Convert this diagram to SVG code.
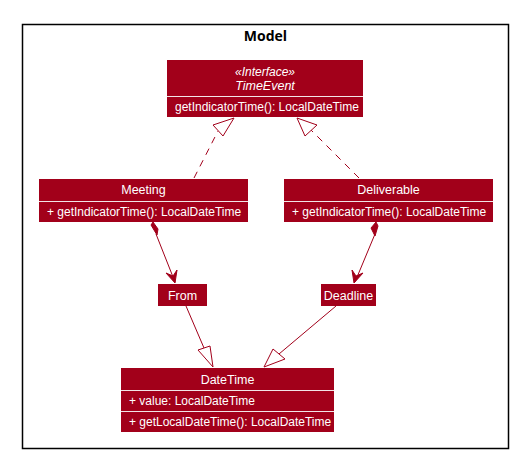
<svg xmlns="http://www.w3.org/2000/svg" width="519" height="459" viewBox="0 0 519 459">
<defs>
<style>
.box{fill:#A2001A;stroke:none}
.sep{stroke:#F2E4E6;stroke-width:1}
.t{font-family:"Liberation Sans",Arial,sans-serif;font-size:12px;fill:#FFFFFF}
.c{text-anchor:middle}
.title{font-size:12.5px}
.edge{stroke:#A2001A;stroke-width:1;fill:none}
.head{stroke:#A2001A;stroke-width:1;fill:#FFFFFF}
.solid{stroke:#A2001A;stroke-width:1;fill:#A2001A}
</style>
</defs>
<rect width="519" height="459" fill="#FFFFFF"/>
<g id="frame">
<rect x="22.5" y="24.5" width="486" height="424" fill="none" stroke="#000000" stroke-width="1.5"/>
<text x="265.5" y="41" text-anchor="middle" font-family="'Open Sans','Liberation Sans',sans-serif" font-weight="bold" font-size="14" fill="#000000">Model</text>
</g>
<g id="connectors">
<line class="edge" x1="194" y1="178" x2="218" y2="131" stroke-dasharray="7,6"/>
<polygon class="head" points="234,118 213,125 223,136"/>
<line class="edge" x1="359" y1="178" x2="311" y2="130" stroke-dasharray="7,6"/>
<polygon class="head" points="297,118 317,125 305,136"/>
<line class="edge" x1="156" y1="234" x2="175" y2="282"/>
<polygon class="solid" points="151,225 153,222 158,229 157,235"/>
<polygon class="solid" points="175,283 166,273 173,276 177,270"/>
<line class="edge" x1="375" y1="234" x2="355" y2="282"/>
<polygon class="solid" points="376,222 378,226 375,236 371,228"/>
<polygon class="solid" points="354,283 352,270 356,276 363,273"/>
<line class="edge" x1="186" y1="306" x2="204" y2="348"/>
<polygon class="head" points="213,367 198,350 210,346"/>
<line class="edge" x1="336" y1="306" x2="279" y2="354"/>
<polygon class="head" points="264,367 273,349 285,359"/>
</g>
<g id="TimeEvent">
<rect class="box" x="167" y="60" width="196" height="57"/>
<line class="sep" x1="167" y1="96.5" x2="363" y2="96.5"/>
<text class="t c" x="265" y="76" font-style="italic">«Interface»</text>
<text class="t c title" x="265" y="90" font-style="italic">TimeEvent</text>
<text class="t" x="175" y="111">getIndicatorTime(): LocalDateTime</text>
</g>
<g id="Meeting">
<rect class="box" x="39" y="179" width="209" height="43"/>
<line class="sep" x1="39" y1="201.5" x2="248" y2="201.5"/>
<text class="t c title" x="143.5" y="194">Meeting</text>
<text class="t" x="47" y="216">+ getIndicatorTime(): LocalDateTime</text>
</g>
<g id="Deliverable">
<rect class="box" x="284" y="179" width="209" height="43"/>
<line class="sep" x1="284" y1="201.5" x2="493" y2="201.5"/>
<text class="t c title" x="388.5" y="194">Deliverable</text>
<text class="t" x="292" y="216">+ getIndicatorTime(): LocalDateTime</text>
</g>
<g id="From">
<rect class="box" x="158" y="284" width="49" height="22"/>
<text class="t c title" x="182.5" y="299.5">From</text>
</g>
<g id="Deadline">
<rect class="box" x="321" y="284" width="55" height="22"/>
<text class="t c title" x="348.5" y="299.5">Deadline</text>
</g>
<g id="DateTime">
<rect class="box" x="121" y="368" width="213" height="64"/>
<line class="sep" x1="121" y1="390.5" x2="334" y2="390.5"/>
<line class="sep" x1="121" y1="411.5" x2="334" y2="411.5"/>
<text class="t c title" x="227.5" y="384">DateTime</text>
<text class="t" x="129" y="405">+ value: LocalDateTime</text>
<text class="t" x="129" y="426">+ getLocalDateTime(): LocalDateTime</text>
</g>
</svg>
